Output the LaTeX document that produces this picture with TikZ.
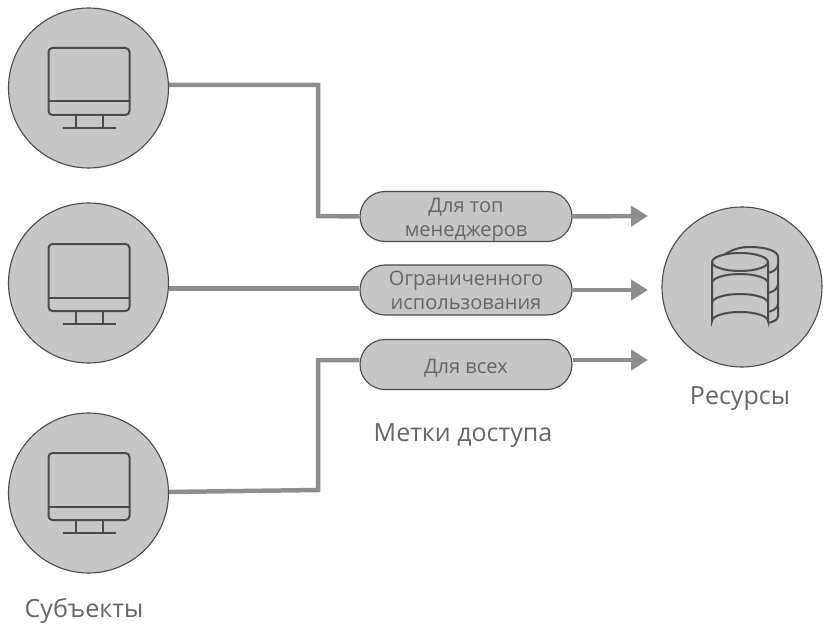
\documentclass[tikz,border=0pt]{standalone}
\usepackage{fontspec}
\setmainfont{Open Sans}
\usetikzlibrary{arrows.meta,shapes.misc}
\definecolor{fillg}{HTML}{C6C6C6}
\definecolor{lineg}{HTML}{8E8E8E}
\definecolor{edgeg}{HTML}{4A4A4A}
\definecolor{textg}{HTML}{666666}
\tikzset{
  disc/.style={circle,draw=edgeg,fill=fillg,line width=1.1pt,minimum size=160pt,inner sep=0pt},
  pill/.style={rounded rectangle,draw=edgeg,fill=fillg,line width=1.1pt,minimum width=212pt,minimum height=50pt,inner sep=0pt,align=center,text=textg,font=\fontsize{20}{24}\selectfont},
  conn/.style={draw=lineg,line width=4.5pt},
  head/.style={conn,-{Triangle[length=17pt,width=20pt]}},
  icon/.style={draw=edgeg,line width=2pt},
  lab/.style={text=textg,font=\fontsize{25}{30}\selectfont,inner sep=0pt},
}
\newcommand{\monitor}[1]{%
  \begin{scope}[shift={(#1)}]
    \draw[icon,rounded corners=4pt] (-40,-40) rectangle (41,27);
    \draw[icon] (-40,13.5) -- (41,13.5);
    \draw[icon] (-13,27) -- (-13,40) (14,27) -- (14,40);
    \draw[icon] (-26,40) -- (27,40);
  \end{scope}}
\begin{document}
\begin{tikzpicture}[x=1pt,y=-1pt]
\useasboundingbox (0,0) rectangle (823,626);
\node[disc] (s1) at (88.5,88) {};
\node[disc] (s2) at (88.5,283) {};
\node[disc] (s3) at (88.5,493) {};
\node[disc] (r) at (742,287) {};
\node[pill] (p1) at (466,216.5) {\rule{0pt}{20pt}Для топ\\менеджеров};
\node[pill] (p2) at (466,290) {Ограниченного\\использования};
\node[pill] (p3) at (466,364.5) {\rule{0pt}{22pt}Для всех};
\coordinate (e1) at (648,216);
\coordinate (e2) at (648,290);
\coordinate (e3) at (648,360);
\draw[conn] (s1.east |- 0,85) -- (318,85) -- (318,216) -- (p1.west);
\draw[conn] (s2.east |- 0,288.5) -- (p2.west |- 0,288.5);
\draw[conn] (s3.east |- 0,492) -- (318,490) -- (318,360) -- (p3.west |- 0,360);
\draw[head] (p1.east) -- (e1);
\draw[head] (p2.east) -- (e2);
\draw[head] (p3.east |- e3) -- (e3);
\monitor{88.5,88}
\monitor{88.5,284}
\monitor{88.5,493}
% database icon
\begin{scope}[shift={(742,287)}]
  \draw[icon] (-30,-25) -- (-30,34) arc[start angle=180,end angle=360,x radius=28,y radius=9] -- (26,-25);
  \draw[icon] (-30,-25) arc[start angle=180,end angle=-180,x radius=28,y radius=9];
  \draw[icon] (-30,-4) arc[start angle=180,end angle=360,x radius=28,y radius=9];
  \draw[icon] (-30,16) arc[start angle=180,end angle=360,x radius=28,y radius=9];
  \draw[icon] (-17,-33) .. controls (-8,-38) and (-2,-40) .. (8,-40) .. controls (24,-40) and (36,-36) .. (36,-30) -- (36,29) .. controls (36,33) and (31,35) .. (26,36);
  \draw[icon] (26,-14) .. controls (31,-15) and (36,-18) .. (36,-23);
  \draw[icon] (26,6) .. controls (31,5) and (36,2) .. (36,-3);
  \draw[icon] (26,25) .. controls (31,24) and (36,21) .. (36,17);
\end{scope}
\node[lab] (t1) at (84,611) {Субъекты};
\node[lab] (t2) at (463,436) {Метки доступа};
\node[lab] (t3) at (740,399) {Ресурсы};
\end{tikzpicture}
\end{document}
